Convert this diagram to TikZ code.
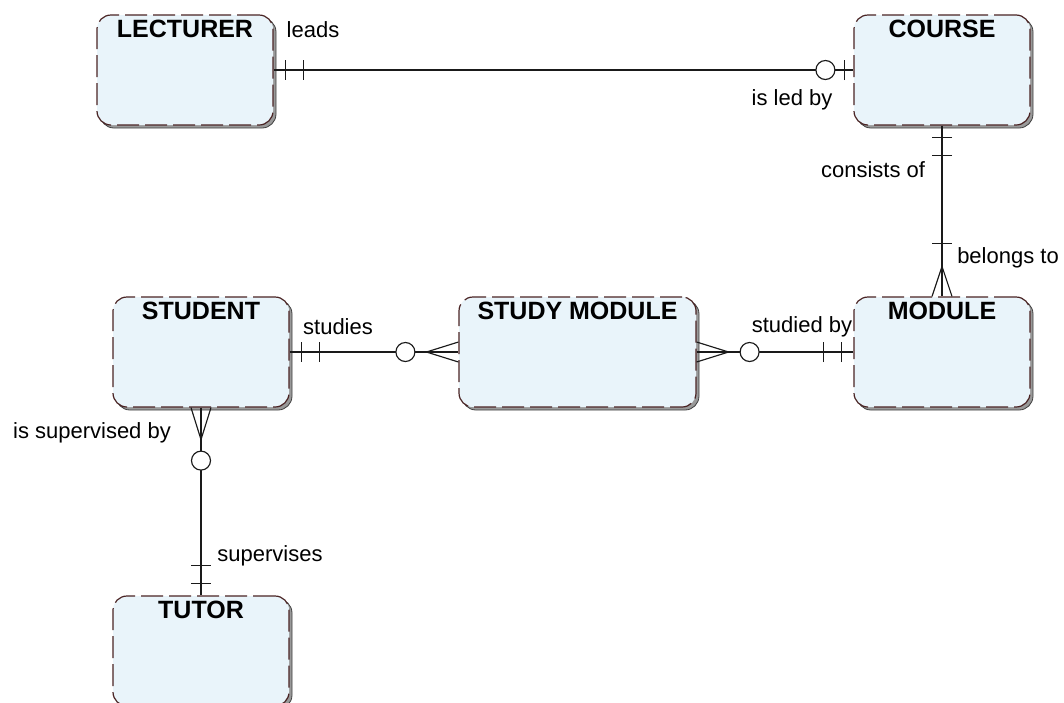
\documentclass[tikz,border=0pt]{standalone}
\usepackage{fontspec}
\setmainfont{Liberation Sans}
\usetikzlibrary{shadows,calc}
\definecolor{boxfill}{HTML}{E9F4FA}
\definecolor{boxline}{HTML}{4A2424}
\definecolor{connline}{HTML}{1A1A1A}
\tikzset{
  entity/.style={draw=boxline, fill=boxfill, line width=1.2pt,
    dash pattern=on 22pt off 6pt, rounded corners=14pt,
    minimum width=176pt, minimum height=110pt, inner sep=0pt,
    drop shadow={shadow xshift=3pt, shadow yshift=-3pt, fill=black!40, draw=black!75, solid, line width=0.8pt, opacity=1}},
  title/.style={font=\fontsize{25}{29}\bfseries\selectfont, inner sep=0pt, text=black},
  lab/.style={font=\fontsize{22}{26}\selectfont, inner sep=0pt, text=black},
  conn/.style={draw=connline, line width=1.15pt},
  mandone/.pic={\draw[conn] (12,-10)--(12,10) (30,-10)--(30,10);},
  zeroone/.pic={\draw[conn] (9,-10)--(9,10); \draw[conn,fill=white] (28,0) circle[radius=9.5pt];},
  zeromany/.pic={\draw[conn] (0,-10)--(32,0)--(0,10); \draw[conn,fill=white] (53,0) circle[radius=9.5pt];},
  onemany/.pic={\draw[conn] (0,-10)--(30,0)--(0,10); \draw[conn] (53,-10)--(53,10);}
}
\begin{document}
\begin{tikzpicture}[x=1pt,y=-1pt]
\useasboundingbox[fill=white] (0,0) rectangle (1064,702);
% entities
\node[entity] (lec) at (185,70) {};
\node[entity] (cou) at (942,70) {};
\node[entity] (stu) at (201,352) {};
\node[entity, minimum width=237pt] (sm) at (577.5,352) {};
\node[entity] (mod) at (942,352) {};
\node[entity] (tut) at (201,651) {};
% titles
\node[title] (lecT) at ($(lec.north)+(0,14)$) {LECTURER};
\node[title] (couT) at ($(cou.north)+(0,14)$) {COURSE};
\node[title] (stuT) at ($(stu.north)+(0,14)$) {STUDENT};
\node[title] (smT) at ($(sm.north)+(0,14)$) {STUDY MODULE};
\node[title] (modT) at ($(mod.north)+(0,14)$) {MODULE};
\node[title] (tutT) at ($(tut.north)+(0,14)$) {TUTOR};
% connectors
\draw[conn] (lec.east) -- (cou.west);
\draw[conn] (cou.south) -- (mod.north);
\draw[conn] (stu.east) -- (sm.west);
\draw[conn] (sm.east) -- (mod.west);
\draw[conn] (stu.south) -- (tut.north);
% cardinality marks
\path (lec.east) pic {mandone};
\path (cou.west) pic[rotate=180] {zeroone};
\path (cou.south) pic[rotate=-90] {mandone};
\path (mod.north) pic[rotate=90] {onemany};
\path (stu.east) pic {mandone};
\path (sm.west) pic[rotate=180] {zeromany};
\path (sm.east) pic {zeromany};
\path (mod.west) pic[rotate=180] {mandone};
\path (stu.south) pic[rotate=-90] {zeromany};
\path (tut.north) pic[rotate=90] {mandone};
% relationship labels
\node[lab] (l1) at (313,30) {leads};
\node[lab] (l2) at (792,100) {is led by};
\node[lab] (l3) at (873,170) {consists of};
\node[lab] (l4) at (1008,258) {belongs to};
\node[lab] (l5) at (338,327) {studies};
\node[lab] (l6) at (802,327) {studied by};
\node[lab] (l7) at (92,433) {is supervised by};
\node[lab] (l8) at (270,556) {supervises};
\end{tikzpicture}
\end{document}
